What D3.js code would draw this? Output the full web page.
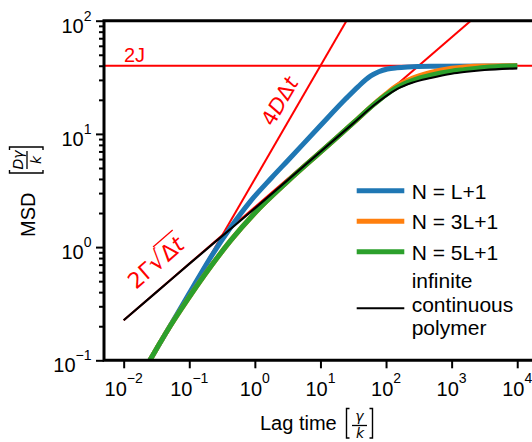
<!DOCTYPE html>
<html><head><meta charset="utf-8">
<script src="https://cdn.jsdelivr.net/npm/d3@7"></script>
<style>
body{margin:0;background:#fff}
svg{display:block}
text{font-family:"Liberation Sans",Arial,sans-serif;fill:#000}
.math{font-family:"DejaVu Sans",sans-serif}
</style>
</head><body>
<svg id="c" width="532" height="442"></svg>
<script>
// ---------------- data ----------------
const seriesNames  = ["N = L+1", "N = 3L+1", "N = 5L+1"];
const seriesColors = ["#1f77b4", "#ff7f0e", "#2ca02c"];

const tBlue   = [0.01, 0.0316, 0.1, 0.2, 0.426, 0.86, 1.8, 3.16, 10, 24.3, 37.6, 58.4, 77.4, 105, 146, 212, 481, 10000];
const mBlue   = [0.04, 0.126, 0.39, 0.77, 1.49, 2.55, 4.1, 5.8, 11.85, 20.4, 26.2, 32.5, 35.4, 37.4, 38.4, 39.0, 39.5, 39.8];

const tOrange = [0.01, 0.0316, 0.045, 0.093, 0.211, 0.426, 1, 3.16, 10, 31.6, 66, 100, 149, 250, 480, 1000, 1550, 3160, 10000];
const mOrange = [0.04, 0.126, 0.178, 0.34, 0.67, 1.14, 2.0, 3.8, 6.9, 12.5, 18.4, 22.5, 26.8, 31.0, 35.0, 38.0, 39.1, 39.85, 40];

const tGreen  = [0.01, 0.0316, 0.045, 0.093, 0.211, 0.426, 1, 3.16, 10, 31.6, 66, 100, 149, 250, 480, 1000, 1550, 3160, 10000];
const mGreen  = [0.04, 0.126, 0.178, 0.34, 0.67, 1.14, 2.0, 3.8, 6.9, 12.5, 18.3, 22.2, 25.9, 29.6, 33.0, 35.8, 36.9, 38.6, 40];

const tBlack  = [0.01, 0.0316, 0.1, 0.316, 1, 3.16, 10, 31.6, 66, 100, 149, 250, 480, 1000, 1550, 3160, 10000];
const mBlack  = [0.226, 0.40, 0.71, 1.25, 2.2, 3.9, 6.95, 12.4, 18.0, 21.6, 25.0, 28.3, 31.2, 34.0, 35.2, 36.7, 37.9];

// reference (red) lines: endpoints
const plateauT = [0.004, 30000], plateauM = [40, 40];          // 2J
const diffT    = [0.01, 30],     diffM    = [0.04, 120];       // 4DΔt
const rouseT   = [0.01, 2500],   rouseM   = [0.2257, 112.8];   // 2Γ√Δt

const xTicks = [0.01, 0.1, 1, 10, 100, 1000, 10000];
const xTickExp = ["−2", "−1", "0", "1", "2", "3", "4"];
const yTicks = [0.1, 1, 10, 100];
const yTickExp = ["−1", "0", "1", "2"];
const yMinor = [0.2,0.3,0.4,0.5,0.6,0.7,0.8,0.9,2,3,4,5,6,7,8,9,20,30,40,50,60,70,80,90];

// ---------------- layout ----------------
const svg = d3.select("#c");
const L = 104, R = 536.9, T = 20.7, B = 360.3;
const x = d3.scaleLog().domain([Math.pow(10,-2.3), Math.pow(10,4.3)]).range([L, R]);
const y = d3.scaleLog().domain([0.1, 100]).range([B, T]);

svg.append("defs").append("clipPath").attr("id","clip")
  .append("rect").attr("x",L).attr("y",T).attr("width",R-L).attr("height",B-T);

const plot = svg.append("g").attr("clip-path","url(#clip)");
const line = d3.line().x(d=>x(d[0])).y(d=>y(d[1]));
const smooth = d3.line().x(d=>x(d[0])).y(d=>y(d[1])).curve(d3.curveMonotoneX);
const zip = (a,b)=>a.map((v,i)=>[v,b[i]]);

// red lines
[[plateauT,plateauM],[diffT,diffM],[rouseT,rouseM]].forEach(([a,b])=>{
  plot.append("path").attr("d", line(zip(a,b))).attr("fill","none")
    .attr("stroke","#ff0000").attr("stroke-width",2);
});

// curves
const curves = [[tBlue,mBlue,seriesColors[0],5],[tOrange,mOrange,seriesColors[1],5],
                [tGreen,mGreen,seriesColors[2],5],[tBlack,mBlack,"#000",2.2]];
curves.forEach(([a,b,c,w])=>{
  plot.append("path").attr("d", smooth(zip(a,b))).attr("fill","none")
    .attr("stroke",c).attr("stroke-width",w).attr("stroke-linecap","butt");
});

// ---------------- axes ----------------
const xAxis = svg.append("g").attr("transform",`translate(0,${B})`)
  .call(d3.axisBottom(x).tickValues(xTicks).tickSize(8).tickFormat(""));
const yAxis = svg.append("g").attr("transform",`translate(${L},0)`)
  .call(d3.axisLeft(y).tickValues(yTicks).tickSize(8).tickFormat(""));
const yAxisMinor = svg.append("g").attr("transform",`translate(${L},0)`)
  .call(d3.axisLeft(y).tickValues(yMinor).tickSize(5).tickFormat(""));
[xAxis,yAxis,yAxisMinor].forEach(g=>{
  g.select(".domain").remove();
  g.selectAll(".tick line").attr("stroke","#000").attr("stroke-width",2);
});

// spines
svg.append("path").attr("d",`M${L},${T}H${R}V${B}H${L}Z`).attr("fill","none")
  .attr("stroke","#000").attr("stroke-width",3);

// tick labels
xTicks.forEach((t,i)=>{
  const tx = svg.append("text").attr("x",x(t)).attr("y",395.7).attr("text-anchor","middle");
  tx.append("tspan").attr("font-size",20).text("10");
  tx.append("tspan").attr("font-size",14).attr("dy",-12.4).text(xTickExp[i]);
});
yTicks.forEach((t,i)=>{
  const tx = svg.append("text").attr("x",91.5).attr("y",y(t)+12).attr("text-anchor","end");
  tx.append("tspan").attr("font-size",20).text("10");
  tx.append("tspan").attr("font-size",14).attr("dy",-12.2).text(yTickExp[i]);
});

// bracket helper
function bracket(g, bx, y0, y1, dir){
  g.append("path").attr("d",`M${bx+dir*3},${y0}H${bx}V${y1}H${bx+dir*3}`)
    .attr("fill","none").attr("stroke","#000").attr("stroke-width",1.4);
}

// x label
svg.append("text").attr("x",260).attr("y",430).attr("font-size",20).text("Lag time");
bracket(svg, 346.5, 408.5, 438, 1);
svg.append("text").attr("class","math").attr("x",359.5).attr("y",421).attr("text-anchor","middle")
  .attr("font-size",14).attr("font-style","italic").text("γ");
svg.append("line").attr("x1",352).attr("x2",367).attr("y1",425.5).attr("y2",425.5)
  .attr("stroke","#000").attr("stroke-width",1.3);
svg.append("text").attr("class","math").attr("x",360).attr("y",438).attr("text-anchor","middle")
  .attr("font-size",14).attr("font-style","italic").text("k");
bracket(svg, 372.5, 408.5, 438, -1);

// y label (rotated)
const yl = svg.append("g").attr("transform","rotate(-90)");
yl.append("text").attr("x",-237).attr("y",35).attr("font-size",20).text("MSD");
bracket(yl, -173, 9.5, 43, 1);
yl.append("text").attr("class","math").attr("x",-160).attr("y",23).attr("text-anchor","middle")
  .attr("font-size",14).attr("font-style","italic").text("Dγ");
yl.append("line").attr("x1",-169).attr("x2",-151).attr("y1",27).attr("y2",27)
  .attr("stroke","#000").attr("stroke-width",1.3);
yl.append("text").attr("class","math").attr("x",-160).attr("y",40.5).attr("text-anchor","middle")
  .attr("font-size",14).attr("font-style","italic").text("k");
bracket(yl, -147, 9.5, 43, -1);

// red annotations
svg.append("text").attr("x",124).attr("y",61.7).attr("font-size",20)
  .style("fill","#ff0000").text("2J");

const a1 = svg.append("g").attr("transform","translate(273,127.5) rotate(-59.9)");
const t1 = a1.append("text").attr("class","math").attr("font-size",21).style("fill","#ff0000");
t1.append("tspan").text("4");
t1.append("tspan").attr("font-style","italic").text("D");
t1.append("tspan").text("Δ");
t1.append("tspan").attr("font-style","italic").text("t");

const a2 = svg.append("g").attr("transform","translate(136,290) rotate(-40.8)");
const t2 = a2.append("text").attr("class","math").attr("font-size",22).style("fill","#ff0000");
t2.append("tspan").text("2Γ");
t2.append("tspan").attr("font-size",25).text("√");
t2.append("tspan").text("Δ");
t2.append("tspan").attr("font-style","italic").text("t");
{
  const n = t2.node();
  const r = n.getExtentOfChar(2);
  const xe = n.getEndPositionOfChar(4).x;
  a2.append("line").attr("x1",r.x + r.width - 1.2).attr("x2",xe+1)
    .attr("y1",r.y+1.6).attr("y2",r.y+1.6).attr("stroke","#ff0000").attr("stroke-width",1.3);
}

// legend
const legRows = [
  {name:seriesNames[0], color:seriesColors[0], w:5, y:190.7},
  {name:seriesNames[1], color:seriesColors[1], w:5, y:221.2},
  {name:seriesNames[2], color:seriesColors[2], w:5, y:251.7}
];
legRows.forEach(r=>{
  svg.append("line").attr("x1",356.7).attr("x2",404.3).attr("y1",r.y).attr("y2",r.y)
    .attr("stroke",r.color).attr("stroke-width",r.w);
  svg.append("text").attr("x",411.7).attr("y",r.y+8).attr("font-size",21).text(r.name);
});
svg.append("line").attr("x1",356.7).attr("x2",404.3).attr("y1",308.3).attr("y2",308.3)
  .attr("stroke","#000").attr("stroke-width",2);
["infinite","continuous","polymer"].forEach((s,i)=>{
  svg.append("text").attr("x",411.7).attr("y",288.3+i*23.4).attr("font-size",21).text(s);
});
</script>
</body></html>
